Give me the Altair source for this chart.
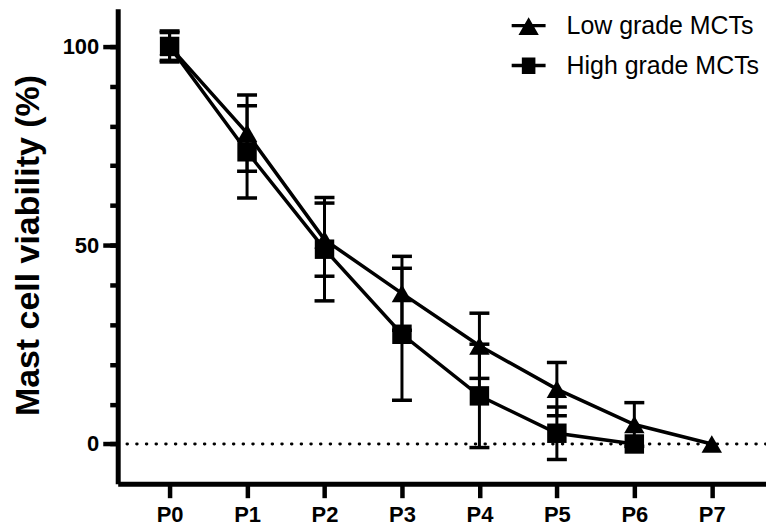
import altair as alt
import pandas as pd

stages = ["P0", "P1", "P2", "P3", "P4", "P5", "P6", "P7"]
series_names = ["Low grade MCTs", "High grade MCTs"]
low_mean = [100.0, 78.2, 51.4, 37.9, 24.7, 13.8, 4.9, 0.0]
low_sd = [3.5, 9.6, 9.2, 9.3, 8.2, 6.7, 5.5, 0.0]
high_mean = [100.0, 73.5, 49.0, 27.6, 12.1, 2.7, 0.0]
high_sd = [3.9, 11.6, 13.0, 16.6, 13.0, 6.6, 0.0]
y_major = [0, 50, 100]
y_minor = [0, 10, 20, 30, 40, 50, 60, 70, 80, 90, 100]
x_ticks = [0, 1, 2, 3, 4, 5, 6, 7]

rows = []
for name, means, sds in [(series_names[0], low_mean, low_sd), (series_names[1], high_mean, high_sd)]:
    for i, (m, s) in enumerate(zip(means, sds)):
        rows.append({"idx": i, "stage": stages[i], "series": name,
                     "mean": m, "sd": s, "lo": m - s, "hi": m + s})
df = pd.DataFrame(rows)
zero_df = pd.DataFrame({"y": [0]})

FONT = "Liberation Sans"
xscale = alt.Scale(domain=[-0.67, 7.7], nice=False, zero=False)
yscale = alt.Scale(domain=[-10, 109.5], nice=False, zero=False)

x_axis = alt.Axis(values=x_ticks, labelExpr="'P' + datum.value", title=None,
                  tickSize=14, labelPadding=7)
y_axis_major = alt.Axis(values=y_major, title="Mast cell viability (%)", orient="left",
                        titleAngle=270, titleBaseline="alphabetic", titleAlign="center",
                        titleX=-79, titleY=237, tickSize=15, labelPadding=4)
y_axis_minor = alt.Axis(values=y_minor, title=None, orient="left", labels=False,
                        domain=False, tickSize=8)


def X(field="idx:Q"):
    return alt.X(field, scale=xscale, axis=x_axis)


def Y(field, axis=None):
    return alt.Y(field, scale=yscale, axis=axis)


base = alt.Chart(df)

zero_rule = alt.Chart(zero_df).mark_rule(color="black", strokeWidth=3, strokeDash=[0.5, 9.2],
                                          strokeCap="round").encode(y=Y("y:Q", y_axis_minor))

lines = base.mark_line(color="black", strokeWidth=3.5).encode(
    x=X(), y=Y("mean:Q", y_axis_major), detail="series:N")

err = base.transform_filter("datum.sd > 0")
err_rule = err.mark_rule(color="black", strokeWidth=3).encode(
    x=X(), y=Y("lo:Q"), y2="hi:Q")
cap_hi = err.mark_tick(color="black", orient="horizontal", size=20, thickness=3.5, opacity=1).encode(
    x=X(), y=Y("hi:Q"))
cap_lo = err.mark_tick(color="black", orient="horizontal", size=20, thickness=3.5, opacity=1).encode(
    x=X(), y=Y("lo:Q"))

low_pts = base.transform_filter(alt.datum.series == series_names[0]).mark_point(
    shape="triangle-up", filled=True, color="black", size=420, opacity=1).encode(
    x=X(), y=Y("mean:Q"))
high_pts = base.transform_filter(alt.datum.series == series_names[1]).mark_point(
    shape="square", filled=True, color="black", size=380, opacity=1).encode(
    x=X(), y=Y("mean:Q"))

tri_path = "M-1,-0.1H1V0.1H-1ZM0,-0.5L0.6,0.55L-0.6,0.55Z"
sq_path = "M-1,-0.1H1V0.1H-1ZM-0.4,-0.48H0.4V0.5H-0.4Z"
legend_layer = base.mark_point(filled=True, opacity=0, color="black").encode(
    x=X(), y=Y("mean:Q"),
    shape=alt.Shape("series:N", scale=alt.Scale(domain=series_names, range=[tri_path, sq_path]),
                    legend=alt.Legend(title=None, orient="none", legendX=395, legendY=0,
                                      symbolSize=1156, symbolFillColor="black",
                                      symbolStrokeWidth=0, symbolOpacity=1,
                                      labelFont=FONT, labelFontSize=25,
                                      labelColor="black", labelOffset=21, rowPadding=10,
                                      labelLimit=400, padding=0)))

chart = alt.layer(zero_rule, lines, err_rule, cap_hi, cap_lo, low_pts, high_pts, legend_layer).resolve_axis(
    y="independent"
).properties(
    width=650, height=476.3,
    padding={"left": 110, "top": 0, "right": 0, "bottom": 46},
    autosize=alt.AutoSizeParams(type="none"),
    background="white",
).configure_view(stroke=None).configure_axis(
    grid=False,
    labelFont=FONT, labelFontSize=22, labelFontWeight="bold", labelColor="black",
    titleFont=FONT, titleFontSize=34, titleFontWeight="bold", titleColor="black",
    tickWidth=4.5, tickColor="black", domainWidth=5, domainColor="black",
)

chart.save("out.html", embed_options={"renderer": "svg", "actions": False})
